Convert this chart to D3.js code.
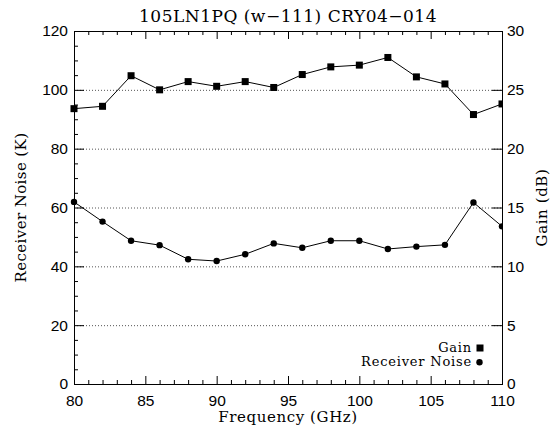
<!DOCTYPE html>
<html>
<head>
<meta charset="utf-8">
<script src="https://cdn.jsdelivr.net/npm/d3@7"></script>
<style>
	body { margin: 0; background: #fff; }
	svg { display: block; }
	.tick-label { font-family: "Liberation Sans", Arial, sans-serif; font-size: 15.5px; fill: #000; }
	.serif { font-family: "DejaVu Serif", serif; fill: #000; }
</style>
</head>
<body>
<svg id="chart" width="558" height="432"></svg>
<script>
var title = "105LN1PQ (w\u2212111) CRY04\u2212014";

// frequency points (GHz)
var freq = [80, 82, 84, 86, 88, 90, 92, 94, 96, 98, 100, 102, 104, 106, 108, 110];
// gain (dB), right axis
var gain = [23.4, 23.6, 26.2, 25.0, 25.7, 25.3, 25.7, 25.2, 26.3, 26.95, 27.1, 27.75, 26.1, 25.5, 22.9, 23.8];
// receiver noise (K), left axis
var noise = [61.9, 55.2, 48.7, 47.2, 42.4, 41.8, 44.1, 47.8, 46.3, 48.7, 48.7, 45.9, 46.7, 47.3, 61.7, 53.6];

var xTicks = [80, 85, 90, 95, 100, 105, 110];
var leftTicks = [0, 20, 40, 60, 80, 100, 120];
var rightTicks = [0, 5, 10, 15, 20, 25, 30];
var gridLines = [20, 40, 60, 80, 100];

var legendItems = [
	{ name: "Gain", shape: "square" },
	{ name: "Receiver Noise", shape: "circle" }
];

var margin = { left: 74, right: 56, top: 31, bottom: 48 },
	W = 558, H = 432,
	x0 = margin.left, x1 = W - margin.right,
	y0 = H - margin.bottom, y1 = margin.top;

var svg = d3.select("#chart");

var x = d3.scaleLinear().domain([80, 110]).range([x0, x1]);
var yL = d3.scaleLinear().domain([0, 120]).range([y0, y1]);
var yR = d3.scaleLinear().domain([0, 30]).range([y0, y1]);

// dotted grid
svg.append("g").selectAll("line")
	.data(gridLines)
	.enter().append("line")
	.attr("x1", x0).attr("x2", x1)
	.attr("y1", function(d) { return yL(d) + 0.5; })
	.attr("y2", function(d) { return yL(d) + 0.5; })
	.attr("stroke", "#555")
	.attr("stroke-width", 1)
	.attr("stroke-dasharray", "1,2");

// axes: ticks point into the plot
function styleAxis(g) {
	g.select(".domain").remove();
	g.selectAll(".tick line").attr("stroke", "#000");
	g.selectAll(".tick text").attr("class", "tick-label").attr("fill", "#000");
}

var minorX = d3.range(80, 111, 1).filter(function(d) { return d % 5 !== 0; });
var minorL = d3.range(0, 121, 5).filter(function(d) { return d % 20 !== 0; });

svg.append("g").attr("transform", "translate(0," + y0 + ")")
	.call(d3.axisBottom(x).tickValues(xTicks).tickSize(-8).tickPadding(11).tickFormat(d3.format("d")))
	.call(styleAxis);
svg.append("g").attr("transform", "translate(0," + y0 + ")")
	.call(d3.axisBottom(x).tickValues(minorX).tickSize(-4).tickFormat(""))
	.call(styleAxis);

svg.append("g").attr("transform", "translate(0," + y1 + ")")
	.call(d3.axisTop(x).tickValues(xTicks).tickSize(-8).tickFormat(""))
	.call(styleAxis);
svg.append("g").attr("transform", "translate(0," + y1 + ")")
	.call(d3.axisTop(x).tickValues(minorX).tickSize(-4).tickFormat(""))
	.call(styleAxis);

svg.append("g").attr("transform", "translate(" + x0 + ",0)")
	.call(d3.axisLeft(yL).tickValues(leftTicks).tickSize(-10).tickPadding(6))
	.call(styleAxis);
svg.append("g").attr("transform", "translate(" + x0 + ",0)")
	.call(d3.axisLeft(yL).tickValues(minorL).tickSize(-4).tickFormat(""))
	.call(styleAxis);

svg.append("g").attr("transform", "translate(" + x1 + ",0)")
	.call(d3.axisRight(yR).tickValues(rightTicks).tickSize(-10).tickPadding(5))
	.call(styleAxis);

// frame
svg.append("rect")
	.attr("x", x0 + 0.5).attr("y", y1 + 0.5)
	.attr("width", x1 - x0).attr("height", y0 - y1)
	.attr("fill", "none").attr("stroke", "#000").attr("stroke-width", 1);

// series lines
var gainLine = d3.line()
	.x(function(d, i) { return x(freq[i]); })
	.y(function(d) { return yR(d); });
var noiseLine = d3.line()
	.x(function(d, i) { return x(freq[i]); })
	.y(function(d) { return yL(d); });

svg.append("clipPath").attr("id", "clip")
	.append("rect").attr("x", x0 - 4).attr("y", y1).attr("width", x1 - x0 + 4.5).attr("height", y0 - y1);

var plot = svg.append("g").attr("clip-path", "url(#clip)");

plot.append("path").datum(gain)
	.attr("d", gainLine).attr("fill", "none").attr("stroke", "#000").attr("stroke-width", 1);
plot.append("path").datum(noise)
	.attr("d", noiseLine).attr("fill", "none").attr("stroke", "#000").attr("stroke-width", 1);

plot.selectAll("rect.gain").data(gain)
	.enter().append("rect").attr("class", "gain")
	.attr("x", function(d, i) { return x(freq[i]) - 3.5; })
	.attr("y", function(d) { return yR(d) - 3.5; })
	.attr("width", 7).attr("height", 7)
	.attr("fill", "#000");

plot.selectAll("circle.noise").data(noise)
	.enter().append("circle").attr("class", "noise")
	.attr("cx", function(d, i) { return x(freq[i]); })
	.attr("cy", function(d) { return yL(d); })
	.attr("r", 3.2)
	.attr("fill", "#000");

// titles
svg.append("text").attr("class", "serif")
	.attr("x", (x0 + x1) / 2).attr("y", 22)
	.attr("text-anchor", "middle").style("font-size", "17px")
	.style("letter-spacing", "0.5px")
	.text(title);

svg.append("text").attr("class", "serif")
	.attr("x", (x0 + x1) / 2).attr("y", 422)
	.attr("text-anchor", "middle").style("font-size", "15px")
	.style("letter-spacing", "0.6px")
	.text("Frequency (GHz)");

svg.append("text").attr("class", "serif")
	.attr("transform", "translate(26," + ((y0 + y1) / 2) + ") rotate(-90)")
	.attr("text-anchor", "middle").style("font-size", "15px")
	.style("letter-spacing", "0.4px")
	.text("Receiver Noise (K)");

svg.append("text").attr("class", "serif")
	.attr("transform", "translate(547," + ((y0 + y1) / 2) + ") rotate(-90)")
	.attr("text-anchor", "middle").style("font-size", "15px")
	.style("letter-spacing", "0.6px")
	.text("Gain (dB)");

// legend
var legend = svg.append("g").selectAll("g")
	.data(legendItems)
	.enter().append("g")
	.attr("transform", function(d, i) { return "translate(472," + (352 + i * 14) + ")"; });

legend.append("text").attr("class", "serif")
	.attr("text-anchor", "end").style("font-size", "13px")
	.style("letter-spacing", "0.8px")
	.text(function(d) { return d.name; });

legend.each(function(d) {
	var g = d3.select(this);
	if (d.shape === "square") {
		g.append("rect").attr("x", 4.5).attr("y", -7.5).attr("width", 7).attr("height", 7).attr("fill", "#000");
	} else {
		g.append("circle").attr("cx", 7.5).attr("cy", -3.7).attr("r", 3.2).attr("fill", "#000");
	}
});
</script>
</body>
</html>
